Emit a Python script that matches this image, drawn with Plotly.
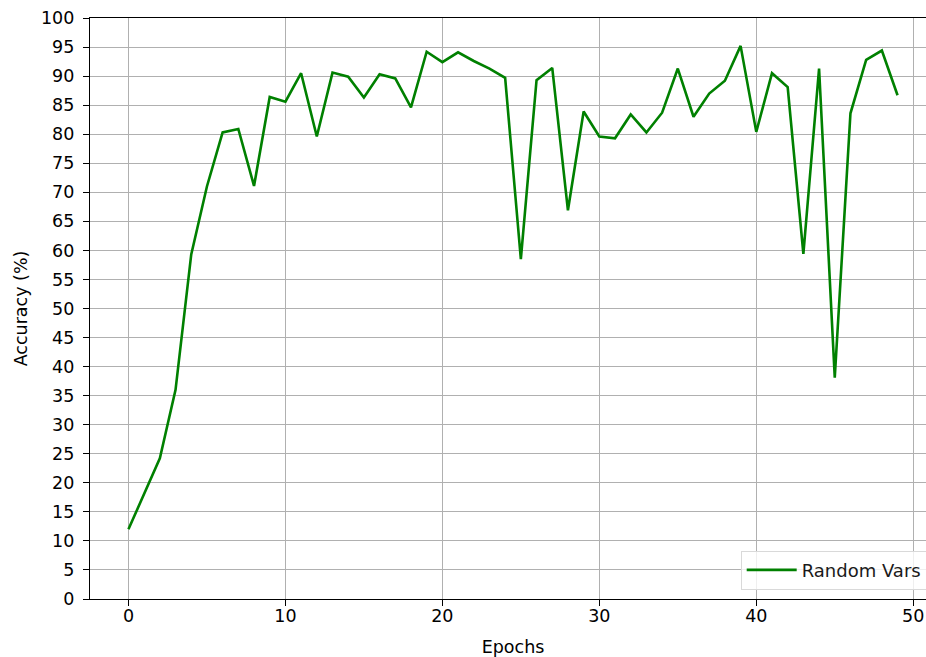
import plotly.graph_objects as go

epochs = list(range(50))
accuracy = [12.0, 18.0, 24.2, 36.0, 59.3, 71.0, 80.3, 80.9, 71.1, 86.4,
            85.6, 90.5, 79.6, 90.6, 89.9, 86.3, 90.3, 89.6, 84.6, 94.2,
            92.4, 94.1, 92.6, 91.3, 89.7, 58.5, 89.3, 91.4, 66.9, 83.9,
            79.6, 79.3, 83.4, 80.3, 83.7, 91.3, 83.0, 87.0, 89.2, 95.2,
            80.4, 90.5, 88.1, 59.4, 91.3, 38.1, 83.6, 92.8, 94.4, 86.7]
y_ticks = list(range(0, 101, 5))
x_ticks = [0, 10, 20, 30, 40, 50]

fig = go.Figure()
fig.add_trace(go.Scatter(x=epochs, y=accuracy, mode="lines", name="Random Vars",
                         line=dict(color="#008000", width=2.6)))

font = dict(family="DejaVu Sans", size=17.5, color="black")
fig.update_layout(
    width=936, height=657, template="none",
    margin=dict(l=90, r=0, t=18, b=58),
    paper_bgcolor="white", plot_bgcolor="white",
    font=font,
    showlegend=True,
    legend=dict(x=0.989, xanchor="right", y=0.016, yanchor="bottom", itemwidth=50,
                bgcolor="rgba(255,255,255,0.8)", bordercolor="#d9d9d9", borderwidth=1,
                font=dict(family="DejaVu Sans", size=18, color="#1a1a1a")),
    xaxis=dict(range=[-2.45, 51.45], tickvals=x_ticks, showgrid=True, gridcolor="#b0b0b0",
               gridwidth=1.4, zeroline=False, showline=True, linecolor="black", linewidth=1.4,
               mirror=True, ticks="outside", ticklen=6, tickwidth=1.4, tickcolor="black",
               ticklabelstandoff=-5,
               title=dict(text="Epochs", standoff=18, font=font)),
    yaxis=dict(range=[0, 100], tickvals=y_ticks, showgrid=True, gridcolor="#b0b0b0",
               gridwidth=1.4, zeroline=False, showline=True, linecolor="black", linewidth=1.4,
               ticks="outside", ticklen=6, tickwidth=1.4, tickcolor="black",
               ticklabelstandoff=5,
               title=dict(text="Accuracy (%)", standoff=8, font=font)),
)
fig.write_html("out.html", config={"displayModeBar": False},
               post_script="document.body.style.margin='0';document.body.style.overflow='hidden';")
